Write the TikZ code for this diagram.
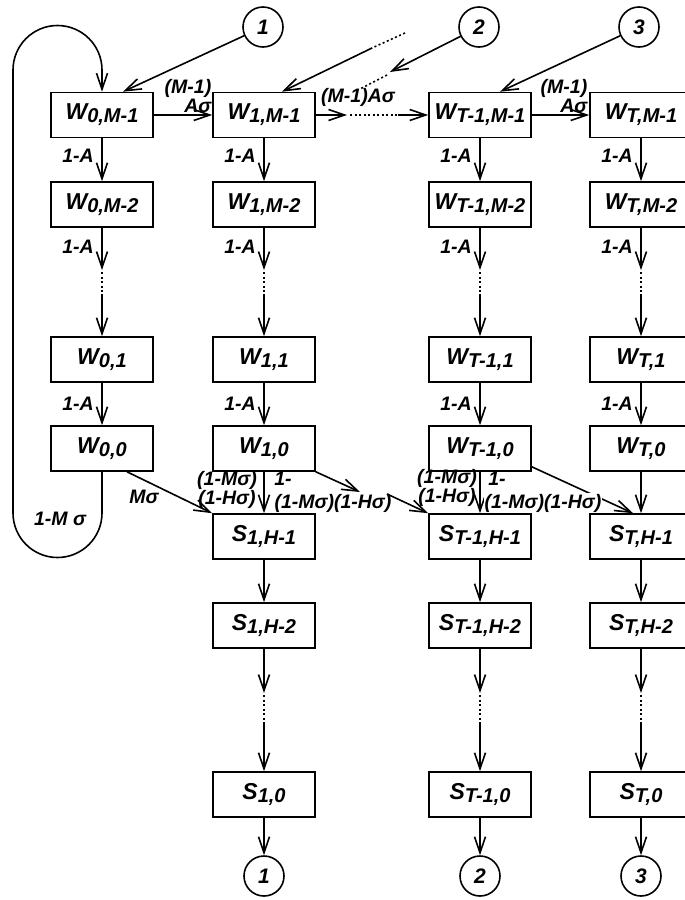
\documentclass[tikz,border=0pt]{standalone}
\usepackage{fontspec}
\setmainfont{Liberation Sans}
\usetikzlibrary{arrows.meta}

\newcommand\boxfont{\fontsize{23}{23}\selectfont\bfseries\itshape}
\newcommand\subfont{\fontsize{20}{20}\selectfont\bfseries\itshape}
\newcommand\lblfont{\fontsize{19.5}{17}\selectfont\bfseries\itshape}
% state name with a lowered index
\newcommand\stname[2]{{\boxfont #1}\raisebox{-3pt}{\subfont #2}}

\begin{document}
\begin{tikzpicture}[x=1pt,y=-1pt,
  state/.style={draw, line width=1.6pt, minimum width=102pt, minimum height=45pt, inner sep=0pt},
  ring/.style={draw, circle, line width=1.6pt, minimum size=40pt, inner sep=0pt,
               font=\fontsize{21}{21}\selectfont\bfseries\itshape},
  lbl/.style={inner sep=0.5pt, font=\lblfont},
  link/.style={line width=1.6pt},
  arr/.style={link, -{Straight Barb[length=16pt,width=11pt]}},
  gap/.style={link, dash pattern=on 2pt off 2.5pt},
]
\useasboundingbox (0,0) rectangle (685,900);

% waiting-state columns
\foreach \col/\X/\idx in {0/102/0, 1/264/1, P/480/T-1, T/641/T}{
  \node[state] (w\col a) at (\X,115)   {\stname{W}{\idx,M-1}};
  \node[state] (w\col b) at (\X,204.5) {\stname{W}{\idx,M-2}};
  \node[state] (w\col c) at (\X,359.5) {\stname{W}{\idx,1}};
  \node[state] (w\col d) at (\X,448.5) {\stname{W}{\idx,0}};
  \coordinate (w\col t) at (\X,270);
  \coordinate (w\col u) at (\X,294);
  \draw[arr] (w\col a) -- node[lbl, pos=0.4, left=7pt] {1-A} (w\col b);
  \draw[arr] (w\col b) -- node[lbl, pos=0.45, left=7pt] {1-A} (w\col t);
  \draw[gap] ([yshift=-2pt]w\col t) -- (w\col u);
  \draw[arr] (w\col u) -- (w\col c);
  \draw[arr] (w\col c) -- node[lbl, pos=0.5, left=7pt] {1-A} (w\col d);
}

% service-state columns
\foreach \col/\X/\idx/\n in {1/264/1/1, P/480/T-1/2, T/641/T/3}{
  \node[state] (s\col a) at (\X,536.5) {\stname{S}{\idx,H-1}};
  \node[state] (s\col b) at (\X,625.5) {\stname{S}{\idx,H-2}};
  \node[state] (s\col c) at (\X,794.5) {\stname{S}{\idx,0}};
  \node[ring]  (b\col)   at (\X,876)   {\n};
  \coordinate (s\col t) at (\X,693);
  \coordinate (s\col u) at (\X,722);
  \draw[arr] (w\col d) -- (s\col a);
  \draw[arr] (s\col a) -- (s\col b);
  \draw[arr] (s\col b) -- (s\col t);
  \draw[gap] ([yshift=-2pt]s\col t) -- (s\col u);
  \draw[arr] (s\col u) -- (s\col c);
  \draw[arr] (s\col c) -- (b\col);
}

% entry rings
\node[ring] (ct1) at (263,27) {1};
\node[ring] (ct2) at (479,27) {2};
\node[ring] (ct3) at (639,27) {3};

\draw[arr] (ct1) -- ([xshift=21pt]w0a.north);
\coordinate (k1) at (390,72);
\coordinate (k2) at (387,75);
\coordinate (k3) at (360,89);
\draw[arr] (ct2) -- (k1);
\draw[gap] (k2) -- (k3);
\draw[arr] (ct3) -- ([xshift=20pt]wPa.north);
\coordinate (e1) at (405,33);
\coordinate (e2) at (372,48);
\draw[gap] (e1) -- (e2);
\draw[arr] (e2) -- ([xshift=18pt]w1a.north);

% arrivals along the top row
\draw[arr] (w0a) -- (w1a);
\node[lbl, align=right, anchor=east] (q01) at (212,96) {(M-1)\\Aσ};
\coordinate (h1) at (347,115);
\coordinate (h2) at (398,115);
\draw[arr] (w1a) -- (h1);
\draw[gap] ([xshift=3pt]h1) -- (h2);
\draw[arr] (h2) -- (wPa);
\node[lbl] (q1P) at (358,97) {(M-1)Aσ};
\draw[arr] (wPa) -- (wTa);
\node[lbl, align=right, anchor=east] (qPT) at (588,96) {(M-1)\\Aσ};

% return loop of column 0
\draw[arr] (w0d.south) -- (102,513) arc[start angle=0, end angle=180, radius=44.5]
  -- (13,70) arc[start angle=180, end angle=360, radius=44.5] -- (w0a.north);
\node[lbl] (qloop) at (60,519) {1-M σ};
\draw[arr] ([xshift=25pt]w0d.south) -- (s1a.north west);
\node[lbl] (qms) at (144,497) {Mσ};

% transitions leaving column 1
\node[lbl, align=center] (q11) at (227,490) {(1-Mσ)\\(1-Hσ)};
\node[lbl] (q12) at (283,479) {1-};
\node[lbl] (q13) at (333,503) {(1-Mσ)(1-Hσ)};
\coordinate (m1) at (360,492);
\coordinate (m2) at (387,494);
\draw[arr] (w1d.south east) -- (m1);
\draw[arr] (m2) -- (sPa.north west);

% transitions leaving column T-1
\draw[arr] ([yshift=5pt]wPd.south east) -- ([xshift=-8pt]sTa.north);
\node[lbl, align=center] (qP1) at (447,488) {(1-Mσ)\\(1-Hσ)};
\node[lbl] (qP2) at (497,479) {1-};
\node[lbl, fill=white] (qP3) at (543,503) {(1-Mσ)(1-Hσ)};
\end{tikzpicture}
\end{document}
